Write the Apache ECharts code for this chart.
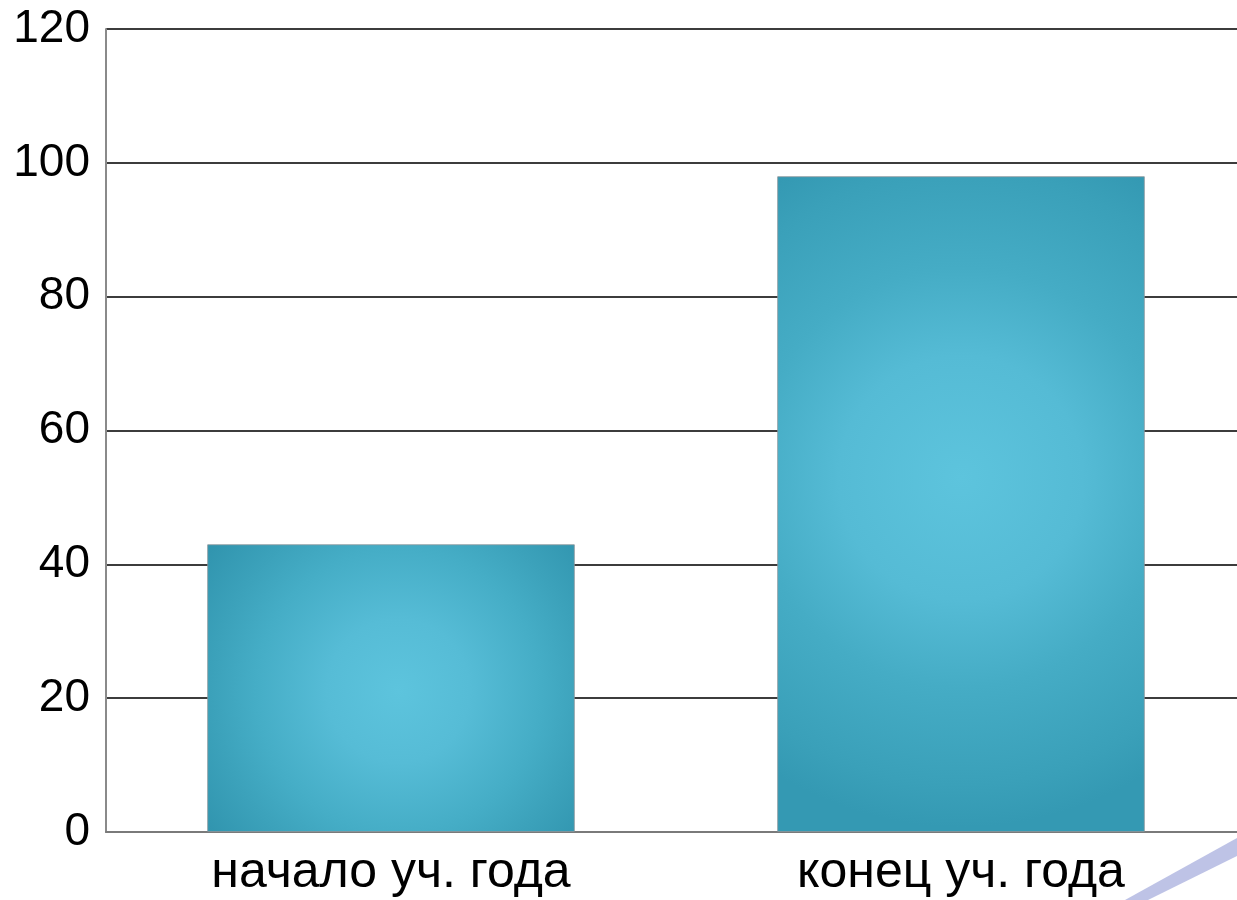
<!DOCTYPE html>
<html>
<head>
<meta charset="utf-8">
<script src="https://cdn.jsdelivr.net/npm/echarts@6/dist/echarts.min.js"></script>
<style>
html,body{margin:0;padding:0;background:#fff;}
#chart{width:1237px;height:900px;}
</style>
</head>
<body>
<div id="chart"></div>
<script>
const categories = ['начало уч. года', 'конец уч. года'];
const values = [43, 98];
const yTicks = { min: 0, max: 120, interval: 20 };

const FONT = '"Liberation Sans", Arial, sans-serif';

const gradients = [
  { type: 'radial', x: 0.52, y: 0.51, r: 0.83,
    colorStops: [
      { offset: 0, color: '#5dc4dd' },
      { offset: 0.3, color: '#56bcd6' },
      { offset: 0.6, color: '#45adc6' },
      { offset: 0.77, color: '#3ca2bb' },
      { offset: 1, color: '#3094ae' }
    ] },
  { type: 'radial', x: 0.5, y: 0.46, r: 0.95,
    colorStops: [
      { offset: 0, color: '#5dc4dd' },
      { offset: 0.35, color: '#55bbd5' },
      { offset: 0.6, color: '#45acc5' },
      { offset: 0.88, color: '#3aa0b9' },
      { offset: 1, color: '#3499b3' }
    ] }
];

const chart = echarts.init(document.getElementById('chart'));
chart.setOption({
  animation: false,
  backgroundColor: '#ffffff',
  grid: { left: 106, top: 29, bottom: 68, width: 1140, outerBoundsMode: 'none', containLabel: false },
  xAxis: {
    type: 'category',
    data: categories,
    boundaryGap: true,
    axisLine: { show: true, lineStyle: { color: '#7a7a7a', width: 2 } },
    axisTick: { show: false },
    axisLabel: { color: '#000', fontSize: 50, fontFamily: FONT, margin: 16 },
    splitLine: { show: false }
  },
  yAxis: {
    type: 'value',
    min: yTicks.min, max: yTicks.max, interval: yTicks.interval,
    axisLine: { show: true, lineStyle: { color: '#8a8a8a', width: 2 } },
    axisTick: { show: false },
    axisLabel: { color: '#000', fontSize: 46, fontFamily: FONT, margin: 16 },
    splitLine: { show: true, lineStyle: { color: '#3c3c3c', width: 2 } }
  },
  series: [{
    type: 'bar',
    barWidth: '64.5%',
    data: values.map((v, i) => ({
      value: v,
      itemStyle: {
        color: gradients[i],
        borderColor: 'rgba(140,150,155,0.8)',
        borderWidth: 1
      }
    }))
  }],
  graphic: [{
    type: 'polygon',
    silent: true,
    shape: { points: [[1125, 900], [1237, 838], [1237, 856], [1148, 900]] },
    style: { fill: 'rgba(125,135,205,0.5)' }
  }]
});
</script>
</body>
</html>
